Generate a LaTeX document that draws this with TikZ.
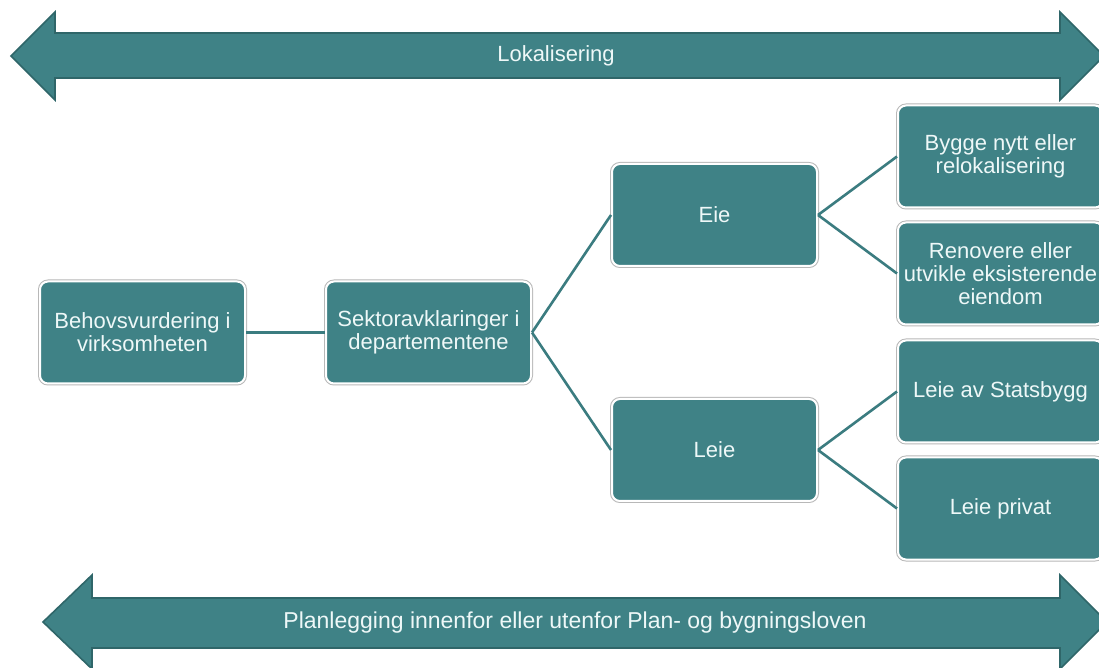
\documentclass[tikz,border=0pt]{standalone}
\usepackage{fontspec}
\setmainfont{Liberation Sans}
\usepackage{tikz}
\usetikzlibrary{positioning}
\usetikzlibrary{calc}

\definecolor{boksfarge}{HTML}{3F8286}
\definecolor{linjefarge}{HTML}{3B7C80}
\definecolor{pilkant}{HTML}{2F6669}
\definecolor{tekstfarge}{HTML}{EEF8F8}

\begin{document}
\begin{tikzpicture}[
		x=0.5pt, y=-0.5pt,
		grow'=right,
		level distance=143pt,
		level 2/.style={sibling distance=117.5pt},
		level 3/.style={sibling distance=58.5pt},
		boks/.style={
			shape=rectangle,
			rounded corners=4pt,
			fill=boksfarge,
			preaction={draw=black!28, line width=2pt},
			draw=white, line width=1pt,
			minimum width=102.5pt,
			minimum height=51pt,
			inner sep=1pt,
			align=center,
			text=tekstfarge,
			font=\fontsize{11}{11.5}\selectfont
		},
		every child node/.style={boks},
		edge from parent/.style={draw=linjefarge, line width=1.3pt},
		edge from parent path={(\tikzparentnode.east) -- (\tikzchildnode.west)},
		pil/.style={fill=boksfarge, draw=pilkant, line width=0.8pt, line join=miter},
		piltekst/.style={text=tekstfarge, font=\fontsize{11}{11.5}\selectfont}
		]
		\useasboundingbox (0,0) rectangle (1099,668);
		\fill[white] (0,0) rectangle (1099,668);

		\draw[pil] (11,56) -- (55,12) -- (55,33) -- (1060,33) -- (1060,12) -- (1104,56)
			-- (1060,100) -- (1060,78) -- (55,78) -- (55,100) -- cycle;
		\node[piltekst] (lokal) at (556,56) {Lokalisering};

		\draw[pil] (43,622) -- (92,575) -- (92,598) -- (1060,598) -- (1060,575) -- (1107,622)
			-- (1060,669) -- (1060,648) -- (92,648) -- (92,669) -- cycle;
		\node[piltekst, font=\fontsize{11.5}{12}\selectfont] (plan) at (575,623) {Planlegging innenfor eller utenfor Plan- og bygningsloven};

		\node[boks] (behov) at (142.5,332.5) {Behovsvurdering i \\ virksomheten}
		child { node (sektor) {Sektoravklaringer i \\ departementene}
			child { node (eie) {Eie}
				child { node (bygge) {Bygge nytt eller \\ relokalisering} }
				child { node (renovere) {Renovere eller \\ utvikle eksisterende \\ eiendom} }
			}
			child { node (leie) {Leie}
				child { node (statsbygg) {Leie av Statsbygg} }
				child { node (privat) {Leie privat} }
			}
		};
	\end{tikzpicture}
\end{document}
